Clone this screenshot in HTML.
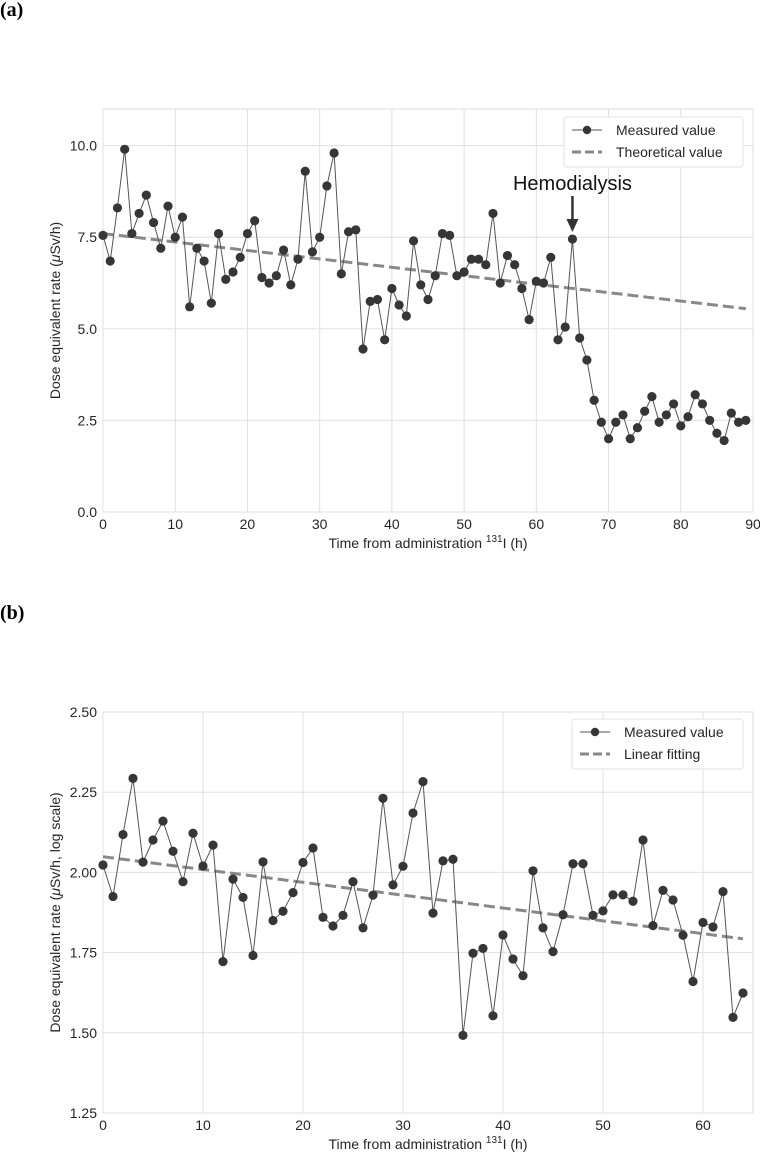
<!DOCTYPE html>
<html><head><meta charset="utf-8">
<style>
html,body{margin:0;padding:0;background:#fff;}
svg{display:block;font-family:"Liberation Sans",sans-serif;}
</style></head>
<body>
<svg id="chart" width="760" height="1155" viewBox="0 0 760 1155" xmlns="http://www.w3.org/2000/svg">
<text x="0" y="16" font-family="Liberation Serif,serif" font-weight="bold" font-size="20">(a)</text>
<text x="0" y="619" font-family="Liberation Serif,serif" font-weight="bold" font-size="20">(b)</text>
<g id="ga"></g>
<g id="gb"></g>
</svg>
<script>
const measuredA = [7.55,6.85,8.3,9.9,7.6,8.15,8.65,7.9,7.2,8.35,7.5,8.05,5.6,7.2,6.85,5.7,7.6,6.35,6.55,6.95,7.6,7.95,6.4,6.25,6.45,7.15,6.2,6.9,9.3,7.1,7.5,8.9,9.8,6.5,7.65,7.7,4.45,5.75,5.8,4.7,6.1,5.65,5.35,7.4,6.2,5.8,6.45,7.6,7.55,6.45,6.55,6.9,6.9,6.75,8.15,6.25,7.0,6.75,6.1,5.25,6.3,6.25,6.95,4.7,5.05,7.45,4.75,4.15,3.05,2.45,2.0,2.45,2.65,2.0,2.3,2.75,3.15,2.45,2.65,2.95,2.35,2.6,3.2,2.95,2.5,2.15,1.95,2.7,2.45,2.5];
const theoreticalA = [7.6,5.55];
const theoreticalAX = [0,89];
const xTicksA = [0,10,20,30,40,50,60,70,80,90];
const yTicksA = [0.0,2.5,5.0,7.5,10.0];
const measuredB = [2.023,1.925,2.118,2.293,2.032,2.101,2.160,2.066,1.971,2.122,2.020,2.085,1.722,1.979,1.922,1.741,2.033,1.850,1.879,1.937,2.031,2.076,1.860,1.833,1.866,1.971,1.827,1.929,2.231,1.961,2.019,2.185,2.283,1.873,2.036,2.041,1.492,1.748,1.763,1.553,1.805,1.730,1.678,2.005,1.827,1.753,1.868,2.027,2.027,1.866,1.880,1.930,1.930,1.910,2.101,1.834,1.944,1.914,1.804,1.660,1.844,1.830,1.940,1.548,1.624];
const fitB = [2.049,1.793];
const fitBX = [0,64];
const xTicksB = [0,10,20,30,40,50,60];
const yTicksB = [1.25,1.50,1.75,2.00,2.25,2.50];

const NS="http://www.w3.org/2000/svg";
function mk(parent,tag,attrs){const e=document.createElementNS(NS,tag);for(const k in attrs)e.setAttribute(k,attrs[k]);parent.appendChild(e);return e;}

function drawChart(g,cfg){
  const L=103,R=753,T=cfg.top,B=cfg.bottom;
  const sx=v=>L+(v-cfg.xmin)/(cfg.xmax-cfg.xmin)*(R-L);
  const sy=v=>B-(v-cfg.ymin)/(cfg.ymax-cfg.ymin)*(B-T);
  const bg=mk(g,'rect',{x:L,y:T,width:R-L,height:B-T,fill:'#fff',stroke:'#dcdcdc','stroke-width':1});
  
  
  cfg.xticks.forEach(t=>{
    const ln=mk(g,'line',{x1:sx(t),x2:sx(t),y1:T,y2:B,stroke:'#e0e0e0','stroke-width':1});
    
    
    const tx=mk(g,'text',{x:sx(t),y:B+17,'text-anchor':'middle','font-size':14,fill:'#262626'});
    tx.textContent=String(t);
    
    
  });
  cfg.yticks.forEach(t=>{
    const ln=mk(g,'line',{x1:L,x2:R,y1:sy(t),y2:sy(t),stroke:'#e0e0e0','stroke-width':1});
    
    
    const tx=mk(g,'text',{x:L-6,y:sy(t)+5,'text-anchor':'end','font-size':14,fill:'#262626'});
    tx.textContent=t.toFixed(cfg.ydec);
    
    
  });
  const fit=mk(g,'line',{x1:sx(cfg.fitX[0]),y1:sy(cfg.fit[0]),x2:sx(cfg.fitX[1]),y2:sy(cfg.fit[1]),stroke:'#888','stroke-width':3,'stroke-dasharray':'11,5'});
  
  
  const pts=cfg.data.map((v,i)=>sx(i).toFixed(1)+','+sy(v).toFixed(1)).join(' ');
  const pl=mk(g,'polyline',{points:pts,fill:'none',stroke:'#555','stroke-width':1});
  
  
  cfg.data.forEach((v,i)=>{
    const c=mk(g,'circle',{cx:sx(i),cy:sy(v),r:4.6,fill:'#363636'});
    
    
  });
  const xt=mk(g,'text',{x:(L+R)/2,y:B+36,'text-anchor':'middle','font-size':14,fill:'#262626'});
  xt.innerHTML='Time from administration <tspan font-size="10" dy="-6">131</tspan><tspan dy="6">I (h)</tspan>';
  
  
  const yt=mk(g,'text',{x:0,y:0,'text-anchor':'middle','font-size':14,fill:'#262626',transform:`translate(60,${(T+B)/2}) rotate(-90)`});
  yt.innerHTML=cfg.ytitle;
  
  
  const lg=mk(g,'g',{});
  
  
  const lx=cfg.legX,ly=cfg.legY;
  mk(lg,'rect',{x:lx,y:ly,width:743-lx,height:50,rx:3,fill:'#fff',stroke:'#e3e3e3'});
  mk(lg,'line',{x1:lx+8,x2:lx+38,y1:ly+13,y2:ly+13,stroke:'#555','stroke-width':1});
  mk(lg,'circle',{cx:lx+23,cy:ly+13,r:4.2,fill:'#363636'});
  mk(lg,'line',{x1:lx+8,x2:lx+38,y1:ly+35,y2:ly+35,stroke:'#888','stroke-width':3,'stroke-dasharray':'9,4'});
  const t1=mk(lg,'text',{x:lx+52,y:ly+18,'font-size':14,fill:'#262626'});t1.textContent='Measured value';
  
  
  const t2=mk(lg,'text',{x:lx+52,y:ly+40,'font-size':14,fill:'#262626'});t2.textContent=cfg.fitName;
  
  
  return {sx,sy};
}

const a=drawChart(document.getElementById('ga'),{top:109,bottom:512,xmin:0,xmax:90,ymin:0,ymax:11,xticks:xTicksA,yticks:yTicksA,ydec:1,data:measuredA,fit:theoreticalA,fitX:theoreticalAX,ytitle:'Dose equivalent rate (<tspan font-style="italic">μ</tspan>Sv/h)',legX:564,legY:117,fitName:'Theoretical value'});
drawChart(document.getElementById('gb'),{top:712,bottom:1113,xmin:0,xmax:65,ymin:1.25,ymax:2.5,xticks:xTicksB,yticks:yTicksB,ydec:2,data:measuredB,fit:fitB,fitX:fitBX,ytitle:'Dose equivalent rate (<tspan font-style="italic">μ</tspan>Sv/h, log scale)',legX:572,legY:719,fitName:'Linear fitting'});

const ga=document.getElementById('ga');
const hx=a.sx(65);
const ht=mk(ga,'text',{x:hx,y:190,'text-anchor':'middle','font-size':20,fill:'#111'});
ht.textContent='Hemodialysis';


const ar=mk(ga,'line',{x1:hx,x2:hx,y1:196,y2:222,stroke:'#333','stroke-width':2.5});


const ah=mk(ga,'polygon',{points:`${hx-6},219 ${hx+6},219 ${hx},232`,fill:'#333'});


</script>
</body></html>
